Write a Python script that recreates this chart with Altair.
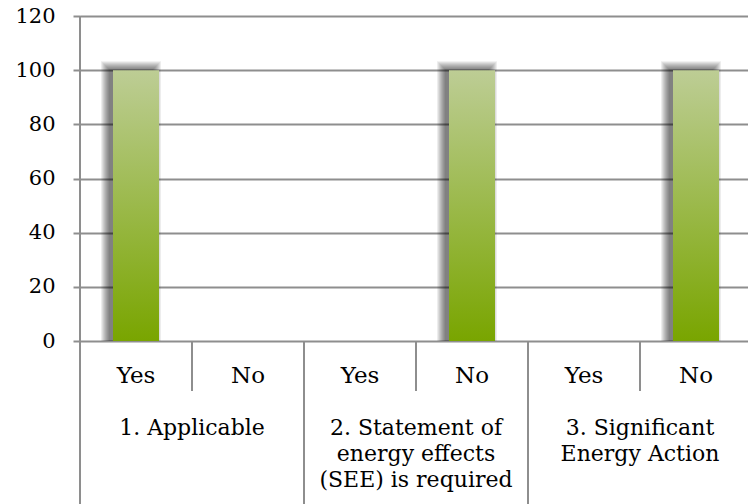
import altair as alt
import pandas as pd

# Survey answers per question (percent)
groups = [
    "1. Applicable",
    "2. Statement of\nenergy effects\n(SEE) is required",
    "3. Significant\nEnergy Action",
]
answers = ["Yes", "No"]
values = [100, 0, 0, 100, 0, 100]
y_ticks = [0, 20, 40, 60, 80, 100, 120]

PLOT_W, PLOT_H = 668, 325
SLOT = 112  # pixel width of one answer slot
BAR_W = 46
GRID = "#8e8e8e"
FONT = "DejaVu Serif, serif"

rows = []
for gi, g in enumerate(groups):
    for ai, a in enumerate(answers):
        slot = gi * len(answers) + ai
        rows.append({"group": g, "answer": a, "pos": slot + 0.5, "value": values[slot]})
bars_df = pd.DataFrame(rows)

group_df = pd.DataFrame({
    "group": groups,
    "pos": [len(answers) * (i + 0.5) for i in range(len(groups))],
})

n_slots = len(groups) * len(answers)
sep_df = pd.DataFrame({
    "pos": list(range(1, n_slots)),
    "kind": ["long" if b % len(answers) == 0 else "short" for b in range(1, n_slots)],
})

x_scale = alt.Scale(domain=[0, PLOT_W / SLOT], nice=False, zero=False)
y_scale = alt.Scale(domain=[0, 120], nice=False)
y_enc = alt.Y(
    "value:Q",
    scale=y_scale,
    axis=alt.Axis(
        values=y_ticks,
        title=None,
        domain=False,
        grid=True,
        gridColor=GRID,
        gridWidth=2,
        ticks=True,
        tickColor=GRID,
        tickWidth=2,
        tickSize=7,
        labelFont=FONT,
        labelFontSize=21,
        labelColor="#000000",
        labelPadding=18,
    ),
)


def rect_layer(tag, left_px, right_px, **mark):
    """Rect spanning [pos - left_px, pos + right_px] pixels around each slot centre."""
    a, b = f"l_{tag}", f"r_{tag}"
    return (
        alt.Chart(bars_df)
        .transform_filter("datum.value > 0")
        .transform_calculate(**{
            a: f"datum.pos - {left_px / SLOT}",
            b: f"datum.pos + {right_px / SLOT}",
        })
        .mark_rect(**mark)
        .encode(
            x=alt.X(f"{a}:Q", scale=x_scale, axis=None),
            x2=f"{b}:Q",
            y=y_enc,
            y2=alt.datum(0),
        )
    )


# soft drop shadow behind each bar, offset up and to the left
shadows = [
    rect_layer(f"s{k}", BAR_W / 2 + 4 + k, BAR_W / 2 - 6 + k, yOffset=-(1 + k),
               color="#000000", opacity=0.07)
    for k in range(9)
]

gradient = alt.Gradient(
    gradient="linear",
    stops=[
        alt.GradientStop(color="#bdcd95", offset=0),
        alt.GradientStop(color="#79a500", offset=1),
    ],
    x1=0, x2=0, y1=0, y2=1,
)
bars = rect_layer("bar", BAR_W / 2, BAR_W / 2, color=gradient)

y_axis_line = alt.Chart(pd.DataFrame({"pos": [0]})).mark_rule(
    color=GRID, strokeWidth=2
).encode(x=alt.X("pos:Q", scale=x_scale, axis=None), y=alt.value(0), y2=alt.value(500))

short_seps = alt.Chart(sep_df).transform_filter("datum.kind == 'short'").mark_rule(
    color=GRID, strokeWidth=2
).encode(x=alt.X("pos:Q", scale=x_scale, axis=None), y=alt.value(PLOT_H), y2=alt.value(375))

long_seps = alt.Chart(sep_df).transform_filter("datum.kind == 'long'").mark_rule(
    color=GRID, strokeWidth=2
).encode(x=alt.X("pos:Q", scale=x_scale, axis=None), y=alt.value(PLOT_H), y2=alt.value(500))

answer_text = alt.Chart(bars_df).mark_text(
    font=FONT, fontSize=23, baseline="alphabetic", align="center", color="#000000"
).encode(x=alt.X("pos:Q", scale=x_scale, axis=None), y=alt.value(367), text="answer:N")

group_text = alt.Chart(group_df).mark_text(
    font=FONT, fontSize=22, baseline="alphabetic", align="center", color="#000000",
    lineBreak="\n", lineHeight=26,
).encode(x=alt.X("pos:Q", scale=x_scale, axis=None), y=alt.value(419), text="group:N")

chart = alt.layer(
    *shadows, bars, y_axis_line, short_seps, long_seps, answer_text, group_text
).properties(
    width=PLOT_W,
    height=PLOT_H,
    padding={"left": 80, "top": 16, "right": 0, "bottom": 163},
    autosize=alt.AutoSizeParams(type="none"),
    background="#ffffff",
).configure_view(stroke=None)

chart.save("out.html", embed_options={"renderer": "svg", "actions": False})
